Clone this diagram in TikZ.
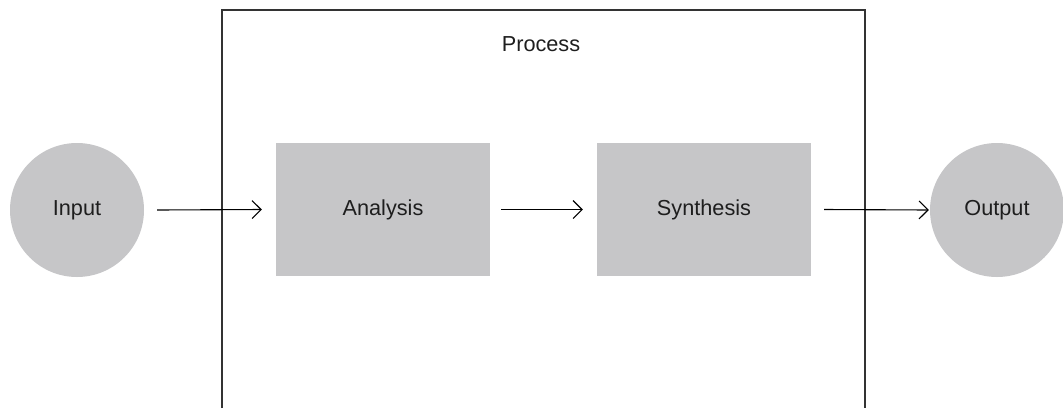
\documentclass[tikz,border=0pt]{standalone}
\usepackage{fontspec}
\setmainfont{Liberation Sans}
\usetikzlibrary{arrows.meta}
\definecolor{boxgray}{RGB}{198,198,200}
\definecolor{framegray}{RGB}{51,51,51}
\definecolor{textgray}{RGB}{30,30,30}

\begin{document}
\begin{tikzpicture}[x=1pt,y=-1pt,font=\fontsize{21.7}{25}\selectfont,text=textgray]
\useasboundingbox (0,0) rectangle (1063,408);
\draw[framegray, line width=1.3pt] (222,408) -- (222,10) -- (865,10) -- (865,408);
\node (proc) at (541,44) {Process};
\node[circle, fill=boxgray, minimum size=134pt, inner sep=0pt] (in) at (77,210) {Input};
\node[rectangle, fill=boxgray, minimum width=214pt, minimum height=133pt] (ana) at (383,209.5) {Analysis};
\node[rectangle, fill=boxgray, minimum width=214pt, minimum height=133pt] (syn) at (704,209.5) {Synthesis};
\node[circle, fill=boxgray, minimum size=134pt, inner sep=0pt] (out) at (997,210) {Output};
\draw [-{Straight Barb[length=9pt,width=18pt]},line width=1.1pt] ([xshift=13pt] in.east) -- ([xshift=-14pt] ana.west);
\draw [-{Straight Barb[length=9pt,width=18pt]},line width=1.1pt] ([xshift=11pt] ana.east) -- ([xshift=-14pt] syn.west);
\draw [-{Straight Barb[length=9pt,width=18pt]},line width=1.1pt] ([xshift=13pt] syn.east) -- ([xshift=-1pt] out.west);
\end{tikzpicture}
\end{document}
